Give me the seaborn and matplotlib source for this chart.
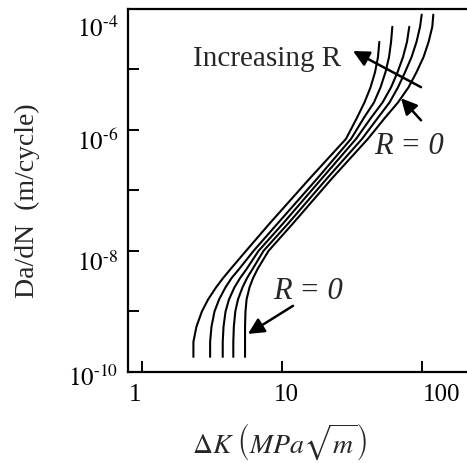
import numpy as np
import pandas as pd
import matplotlib
matplotlib.use("Agg")
import matplotlib.pyplot as plt
import matplotlib.transforms as mtransforms
import seaborn as sns

# da/dN levels (m/cycle) at which the curves were read
dadn = [1.78e-10, 3.16e-10, 5.62e-10, 1.0e-9, 1.58e-9, 2.51e-9, 3.55e-9, 5.01e-9,
        1.0e-8, 2.82e-8, 1.58e-7, 7.08e-7, 1.58e-6, 2.82e-6, 5.01e-6, 8.91e-6,
        1.58e-5, 2.82e-5, 5.01e-5, 7.94e-5]

# delta K (MPa sqrt m) of each curve, highest R first, R = 0 last
dk_r4 = [2.34, 2.34, 2.46, 2.69, 2.98, 3.40, 3.81, 4.31, 5.56, 8.18, 15.9, 28.8,
         34.5, 39.0, 43.1, 46.4, 48.7, 49.8, None, None]
dk_r3 = [3.08, 3.08, 3.15, 3.31, 3.57, 3.97, 4.38, 4.96, 6.29, 9.33, 18.0, 31.3,
         38.7, 45.6, 50.8, 55.1, 58.4, 60.4, 61.7, None]
dk_r2 = [3.79, 3.79, 3.84, 3.97, 4.20, 4.60, 5.04, 5.61, 6.83, 10.2, 19.4, 34.0,
         43.5, 52.5, 60.4, 67.2, 73.5, 78.5, 81.5, None]
dk_r1 = [4.51, 4.51, 4.55, 4.66, 4.87, 5.25, 5.65, 6.19, 7.41, 11.1, 21.1, 37.5,
         48.7, 58.9, 67.7, 76.0, 84.6, 91.8, 97.3, 100.0]
dk_r0 = [5.47, 5.47, 5.47, 5.51, 5.61, 5.89, 6.24, 6.72, 8.05, 12.0, 22.9, 41.3,
         54.7, 67.7, 80.5, 91.8, 103.0, 112.0, 119.0, 121.0]

curves = {"R4": dk_r4, "R3": dk_r3, "R2": dk_r2, "R1": dk_r1, "R0": dk_r0}

frames = []
for name, dk in curves.items():
    frames.append(pd.DataFrame({"dK": dk, "dadn": dadn, "curve": name}))
df = pd.concat(frames, ignore_index=True).dropna()
df["dK"] = df["dK"].astype(float)

sns.set_style("ticks")
plt.rcParams["font.family"] = ["Liberation Serif", "DejaVu Serif"]
plt.rcParams["mathtext.fontset"] = "stix"

fig = plt.figure(figsize=(4.67, 4.64), dpi=100)
ax = fig.add_axes([0.2741, 0.196, 0.7259, 0.7834])
ax.set_xscale("log")
ax.set_yscale("log")

sns.lineplot(data=df, x="dK", y="dadn", units="curve", estimator=None,
             sort=False, color="black", lw=1.5, ax=ax, legend=False)

ax.set_xlim(0.798, 210.6)
ax.set_ylim(1e-10, 1e-4)

for s in ["left", "bottom", "top"]:
    ax.spines[s].set_linewidth(1.6)
    ax.spines[s].set_color("black")
ax.spines["right"].set_visible(False)

ax.set_xticks([1, 10, 100])
ax.set_xticklabels(["1", "10", "100"])
ax.xaxis.set_minor_locator(matplotlib.ticker.NullLocator())
ax.set_yticks([1e-10, 1e-8, 1e-6, 1e-4])
ax.set_yticklabels([r"$10^{‐10}$", r"$10^{‐8}$", r"$10^{‐6}$", r"$10^{‐4}$"])
ax.set_yticks([1e-9, 1e-7, 1e-5], minor=True)
ax.tick_params(axis="both", which="both", direction="in", length=8, width=1.4,
               color="black", labelsize=18, labelcolor="black")
ax.tick_params(axis="x", pad=8)
ax.tick_params(axis="y", pad=7)
ax.tick_params(axis="y", which="minor", labelleft=False)

# the labels in the original sit a little off their ticks
x_shift = [-7, 5, 20]
for lbl, dx in zip(ax.get_xticklabels(), x_shift):
    lbl.set_transform(lbl.get_transform() +
                      mtransforms.ScaledTranslation(dx / 100, 0, fig.dpi_scale_trans))
y_shift = [-3, -9, -9, -17]
for lbl, dy in zip(ax.get_yticklabels(), y_shift):
    lbl.set_transform(lbl.get_transform() +
                      mtransforms.ScaledTranslation(0, dy / 100, fig.dpi_scale_trans))

ax.set_xlabel(r"$\Delta K\ \left(MPa\sqrt{m}\right)$", fontsize=20, va="center")
ax.xaxis.set_label_coords(0.448, -0.19)
ax.set_ylabel("Da/dN  (m/cycle)", fontsize=20, va="center")
ax.yaxis.set_label_coords(-0.298, 0.474)

arrow = dict(arrowstyle="-|>", color="black", lw=1.8, mutation_scale=24,
             shrinkA=0, shrinkB=0)
ax.text(26.5, 1.52e-5, "Increasing R", fontsize=21, ha="right", va="center")
ax.annotate("", xy=(32.3, 1.99e-5), xytext=(98.9, 5.04e-6), arrowprops=arrow)
ax.annotate("", xy=(71.1, 3.31e-6), xytext=(98.9, 1.43e-6), arrowprops=arrow)
ax.text(81.2, 5.52e-7, "R = 0", fontsize=22, style="italic", ha="center", va="center")
ax.text(15.4, 2.19e-9, "R = 0", fontsize=22, style="italic", ha="center", va="center")
ax.annotate("", xy=(5.74, 4.26e-10), xytext=(12.04, 1.24e-9), arrowprops=arrow)

fig.savefig("out.png", dpi=100)
